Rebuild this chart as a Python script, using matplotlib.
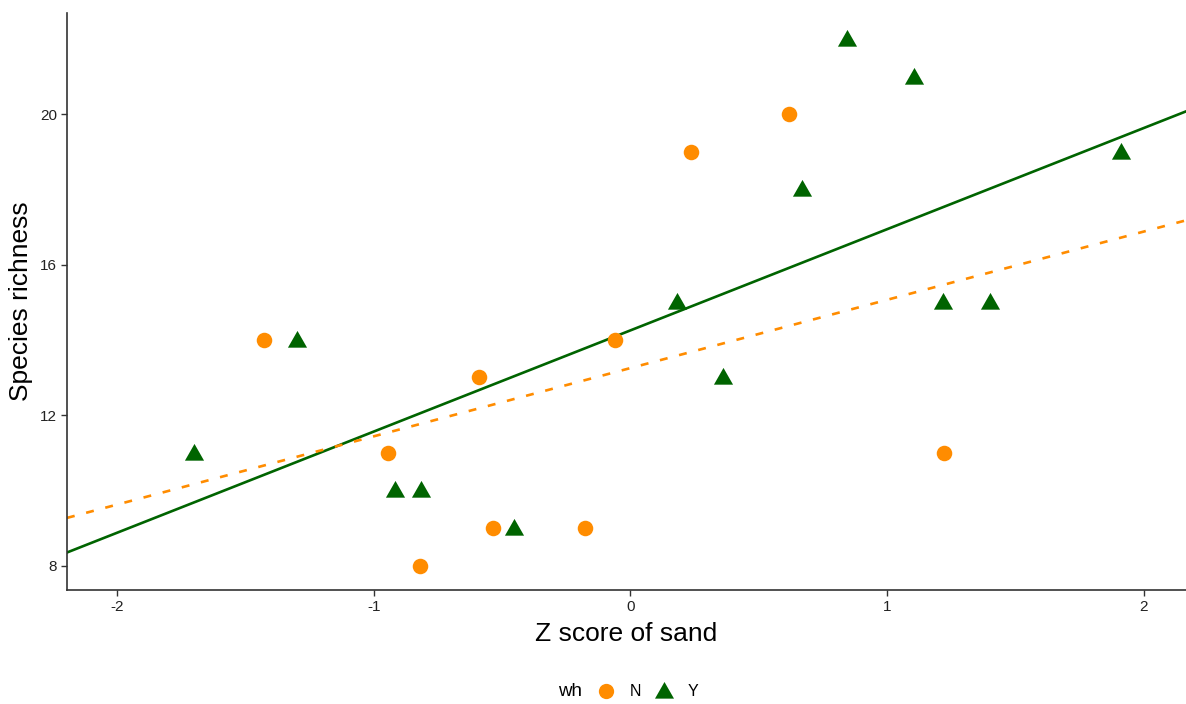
import numpy as np
import matplotlib.pyplot as plt
from matplotlib.lines import Line2D
from matplotlib.path import Path

plt.rcParams['font.family'] = ['Liberation Sans', 'DejaVu Sans']

# group N (no) - orange circles
n_x = [-1.429, -0.943, -0.818, -0.591, -0.536, -0.176, -0.059, 0.235, 0.618, 1.221]
n_y = [14, 11, 8, 13, 9, 9, 14, 19, 20, 11]

# group Y (yes) - green triangles
y_x = [-1.699, -1.299, -0.916, -0.814, -0.454, 0.180, 0.360, 0.669, 0.845, 1.104, 1.217, 1.401, 1.910]
y_y = [11, 14, 10, 10, 9, 15, 13, 18, 22, 21, 15, 15, 19]

x_ticks = [-2, -1, 0, 1, 2]
y_ticks = [8, 12, 16, 20]

orange = '#FF8C00'
green = '#006400'
xlim = (-2.195, 2.165)
ylim = (7.35, 22.69)

# triangle centred near its centroid, like R's pch 17
tri = Path([(-1, -0.75), (1, -0.75), (0, 1), (-1, -0.75)],
           [Path.MOVETO, Path.LINETO, Path.LINETO, Path.CLOSEPOLY])

fig = plt.figure(figsize=(11.86, 7.04), dpi=100)
ax = fig.add_axes([67 / 1186, 1 - 590 / 704, 1 - 67 / 1186, (590 - 13) / 704])

# linear fits over the full x range (like geom_smooth(method='lm', fullrange=TRUE))
xs = np.linspace(xlim[0], xlim[1], 50)
bn = np.polyfit(n_x, n_y, 1)
by = np.polyfit(y_x, y_y, 1)
ax.plot(xs, np.polyval(by, xs), color=green, lw=1.9, zorder=2)
ax.plot(xs, np.polyval(bn, xs), color=orange, lw=1.9, dashes=(3, 4.5), zorder=2)

ax.scatter(n_x, n_y, marker='o', s=125, color=orange, linewidths=0, zorder=3)
ax.scatter(y_x, y_y, marker=tri, s=190, color=green, linewidths=0, zorder=3)

ax.set_xlim(*xlim)
ax.set_ylim(*ylim)
ax.set_xticks(x_ticks)
ax.set_yticks(y_ticks)
ax.set_xticklabels([str(t) for t in x_ticks])
ax.tick_params(axis='both', labelsize=11, colors='#333333', length=4, width=1, pad=3)
ax.tick_params(labelcolor='#222222')

for s in ['top', 'right']:
    ax.spines[s].set_visible(False)
for s in ['left', 'bottom']:
    ax.spines[s].set_color('#333333')
    ax.spines[s].set_linewidth(1.2)

ax.set_xlabel('Z score of sand', fontsize=19, labelpad=6)
ax.set_ylabel('Species richness', fontsize=19, labelpad=5)

# legend at bottom: title "wh" on the left, then keys
fig.text(570 / 1186, 1 - 692 / 704, 'wh', fontsize=13.5, ha='center', va='center')
handles = [
    Line2D([], [], marker='o', color=orange, linestyle='none', markersize=11, markeredgewidth=0),
    Line2D([], [], marker=tri, color=green, linestyle='none', markersize=13.7, markeredgewidth=0),
]
fig.legend(handles, ['N', 'Y'], ncol=2, frameon=False, loc='center left',
           bbox_to_anchor=(596 / 1186, 1 - 692 / 704), fontsize=11.5,
           handlelength=1.3, handletextpad=0.8, columnspacing=0.8, borderpad=0,
           borderaxespad=0)

fig.savefig('out.png', dpi=100)
